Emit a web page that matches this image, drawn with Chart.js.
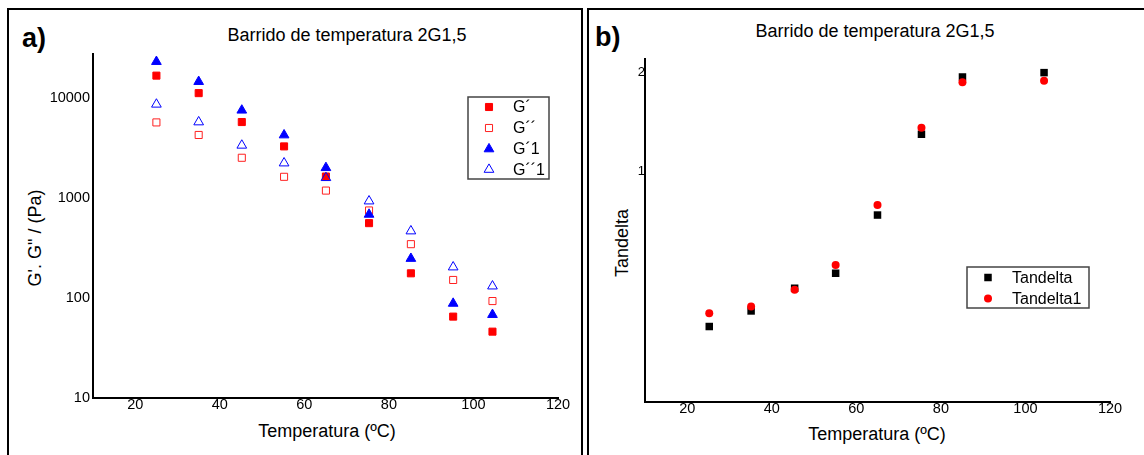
<!DOCTYPE html>
<html>
<head>
<meta charset="utf-8">
<script src="https://cdn.jsdelivr.net/npm/chart.js@4.4.1/dist/chart.umd.min.js"></script>
<style>
  html, body { margin: 0; padding: 0; background: #fff; }
  body { width: 1144px; height: 455px; position: relative; overflow: hidden;
         font-family: "Liberation Sans", Arial, sans-serif; color: #000; }
  .frame { position: absolute; border: 2px solid #000; box-sizing: border-box; }
  .txt { position: absolute; white-space: nowrap; line-height: 1; transform: translate(-50%, -50%); }
  .tag { font-weight: bold; font-size: 27px; transform: translate(0, -50%); }
  .big { font-size: 18px; }
  .rot { transform: translate(-50%, -50%) rotate(-90deg); }
  canvas { position: absolute; top: 0; }
</style>
</head>
<body>
<div class="frame" style="left:7px;top:8px;width:576px;height:470px"></div>
<div class="frame" style="left:587px;top:8px;width:570px;height:470px"></div>

<div class="txt tag" style="left:22px;top:38px">a)</div>
<div class="txt big" style="left:347px;top:35px">Barrido de temperatura 2G1,5</div>
<div class="txt big rot" style="left:35px;top:238px">G'. G" / (Pa)</div>
<div class="txt big" style="left:327px;top:431px">Temperatura (ºC)</div>

<div class="txt tag" style="left:595px;top:37px">b)</div>
<div class="txt big" style="left:875px;top:31px">Barrido de temperatura 2G1,5</div>
<div class="txt big rot" style="left:622px;top:243px">Tandelta</div>
<div class="txt big" style="left:877px;top:434px">Temperatura (ºC)</div>

<canvas id="chartA" width="582" height="455" style="left:0"></canvas>
<canvas id="chartB" width="556" height="455" style="left:588px"></canvas>

<script>
// temperaturas (ºC) y módulos G', G'' (Pa) de las dos muestras
const tempA = [25, 35, 45.2, 55.2, 65.1, 75.3, 85.2, 95.2, 104.5];
const gP   = [16600, 11100, 5710, 3260, 1630, 558, 176, 65, 46];
const gPP  = [5660, 4240, 2510, 1620, 1180, 747, 344, 151, 93];
const gP1  = [22900, 14450, 7480, 4230, 1995, 682, 247, 88, 68];
const gPP1 = [8580, 5710, 3340, 2220, 1585, 926, 465, 203, 131];

// tan delta de las dos muestras
const tempB = [25.2, 35.1, 45.4, 55.1, 65, 75.4, 85.1, 104.4];
const tanD  = [0.339, 0.378, 0.443, 0.492, 0.739, 1.30, 1.94, 2.0];
const tanD1 = [0.372, 0.390, 0.438, 0.521, 0.793, 1.36, 1.87, 1.89];

const xTicks  = [20, 40, 60, 80, 100, 120];
const yTicksA = [10, 100, 1000, 10000];
const yTicksB = [1, 2];

const FONT = '"Liberation Sans", Arial, sans-serif';
const pts = (xs, ys) => ys.map((y, i) => ({x: xs[i], y: y}));
const setTicks = vals => s => { s.ticks = vals.map(v => ({value: v})); };

// leyenda con marco dibujada dentro del área del gráfico
const boxLegend = {
    id: 'boxLegend',
    afterDraw(chart, args, o) {
        const ctx = chart.ctx;
        ctx.save();
        ctx.strokeStyle = '#444';
        ctx.lineWidth = 1.5;
        ctx.strokeRect(o.x, o.y, o.w, o.h);
        ctx.font = '16px ' + FONT;
        ctx.textBaseline = 'middle';
        chart.data.datasets.forEach((ds, i) => {
            const y = o.rows[i];
            ctx.fillStyle = ds.backgroundColor;
            ctx.strokeStyle = ds.borderColor;
            ctx.lineWidth = ds.borderWidth;
            Chart.helpers.drawPoint(ctx, {
                pointStyle: ds.pointStyle, rotation: 0,
                radius: ds.pointRadius, borderWidth: ds.borderWidth
            }, o.markerX, y);
            ctx.fillStyle = '#000';
            ctx.fillText(ds.label, o.textX, y + 1);
        });
        ctx.restore();
    }
};

function xScale() {
    return {
        type: 'linear', min: 10, max: 120,
        afterBuildTicks: setTicks(xTicks),
        afterFit: s => { s.height = 30; },
        grid: {display: false, drawTicks: false},
        border: {display: true, color: '#000', width: 2},
        ticks: {color: '#000', padding: -2, font: {family: FONT, size: 14.5}, maxRotation: 0}
    };
}

// a) barrido de G' y G''
new Chart(document.getElementById('chartA'), {
    type: 'scatter',
    data: {
        datasets: [
            {label: 'G´', data: pts(tempA, gP), pointStyle: 'rect', pointRadius: 5,
             backgroundColor: '#ff0000', borderColor: '#ff0000', borderWidth: 1, order: 4},
            {label: 'G´´', data: pts(tempA, gPP), pointStyle: 'rect', pointRadius: 5,
             backgroundColor: 'rgba(255,255,255,0)', borderColor: '#ff2020', borderWidth: 1, order: 3},
            {label: 'G´1', data: pts(tempA, gP1), pointStyle: 'triangle', pointRadius: 5.6,
             backgroundColor: '#0000ff', borderColor: '#0000ff', borderWidth: 1, order: 2},
            {label: 'G´´1', data: pts(tempA, gPP1), pointStyle: 'triangle', pointRadius: 5.6,
             backgroundColor: 'rgba(255,255,255,0)', borderColor: '#0000ff', borderWidth: 1, order: 1}
        ]
    },
    options: {
        responsive: false,
        animation: false,
        layout: {padding: {left: 33, top: 54, right: 24, bottom: 27}},
        plugins: {
            legend: {display: false},
            tooltip: {enabled: false},
            boxLegend: {x: 468, y: 97, w: 81, h: 82, rows: [107, 128, 149, 169.5], markerX: 489, textX: 513}
        },
        scales: {
            x: xScale(),
            y: {
                type: 'logarithmic', min: 10, max: 27300,
                afterBuildTicks: setTicks(yTicksA),
                afterFit: s => { s.width = 60; },
                grid: {display: false, drawTicks: false},
                border: {display: true, color: '#000', width: 2},
                ticks: {color: '#000', padding: 3, font: {family: FONT, size: 14.5},
                        callback: v => String(v)}
            }
        }
    },
    plugins: [boxLegend]
});

// b) tan delta
new Chart(document.getElementById('chartB'), {
    type: 'scatter',
    data: {
        datasets: [
            {label: 'Tandelta', data: pts(tempB, tanD), pointStyle: 'rect', pointRadius: 5.3,
             backgroundColor: '#000', borderColor: '#000', borderWidth: 0, order: 2},
            {label: 'Tandelta1', data: pts(tempB, tanD1), pointStyle: 'circle', pointRadius: 4,
             backgroundColor: '#ff0000', borderColor: '#ff0000', borderWidth: 0, order: 1}
        ]
    },
    options: {
        responsive: false,
        animation: false,
        layout: {padding: {left: 17, top: 59, right: 34, bottom: 23}},
        plugins: {
            legend: {display: false},
            tooltip: {enabled: false},
            boxLegend: {x: 379, y: 267, w: 122, h: 41, rows: [277.5, 298.5], markerX: 400, textX: 424}
        },
        scales: {
            x: xScale(),
            y: {
                type: 'logarithmic', min: 0.2, max: 2.2,
                afterBuildTicks: setTicks(yTicksB),
                afterFit: s => { s.width = 40; },
                grid: {display: false, drawTicks: false},
                border: {display: true, color: '#000', width: 2},
                ticks: {color: '#000', padding: 0, font: {family: FONT, size: 13},
                        callback: v => String(v)}
            }
        }
    },
    plugins: [boxLegend]
});
</script>
</body>
</html>
